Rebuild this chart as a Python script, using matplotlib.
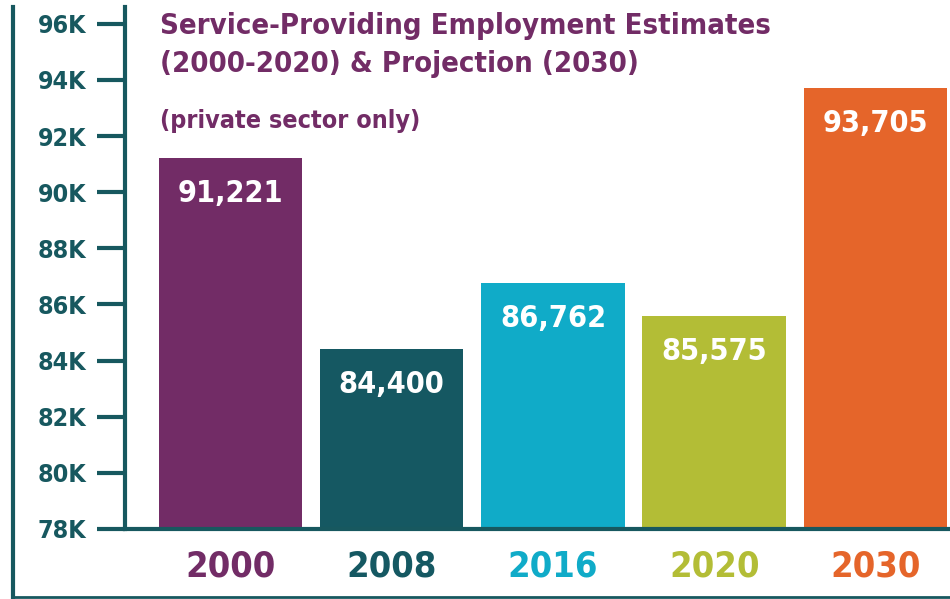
import matplotlib.pyplot as plt
from matplotlib.lines import Line2D

# Data
years = ["2000", "2008", "2016", "2020", "2030"]
employment = [91221, 84400, 86762, 85575, 93705]
colors = ["#722c66", "#155862", "#10abc8", "#b3bd36", "#e5652a"]
y_ticks = [78000, 80000, 82000, 84000, 86000, 88000, 90000, 92000, 94000, 96000]
y_tick_labels = ["78K", "80K", "82K", "84K", "86K", "88K", "90K", "92K", "94K", "96K"]

teal = "#17585f"
font = "DejaVu Sans"
stretch = "condensed"

fig = plt.figure(figsize=(9.5, 5.99), dpi=100)
ax = fig.add_axes([125 / 950, 70 / 599, 825 / 950, 522 / 599])

x = list(range(len(years)))
ax.bar(x, employment, width=0.89, color=colors, bottom=0)

# value labels inside the bars
for xi, v in zip(x, employment):
    ax.text(xi, v - 1250, f"{v:,}", ha="center", va="center", color="white",
            fontsize=22, family=font, stretch=stretch, weight="bold")

ax.set_ylim(78000, 96600)
ax.set_xlim(-0.654, 4.462)

ax.set_yticks(y_ticks)
ax.set_yticklabels(y_tick_labels, family=font, stretch=stretch, weight="bold",
                   fontsize=18, color=teal)
ax.tick_params(axis="y", length=20, width=3, color=teal, pad=8)

ax.set_xticks(x)
ax.set_xticklabels(years, family=font, stretch=stretch, weight="bold", fontsize=26)
for lbl, c in zip(ax.get_xticklabels(), colors):
    lbl.set_color(c)
ax.tick_params(axis="x", length=0, pad=15)

for side in ["top", "right"]:
    ax.spines[side].set_visible(False)
ax.spines["left"].set_color(teal)
ax.spines["left"].set_linewidth(3)
ax.spines["bottom"].set_color(teal)
ax.spines["bottom"].set_linewidth(3)

# title block
fig.text(160 / 950, 1 - 12 / 599, "Service-Providing Employment Estimates\n(2000-2020) & Projection (2030)",
         ha="left", va="top", color="#722c66", fontsize=21, family=font, stretch=stretch,
         weight="bold", linespacing=1.45)
fig.text(160 / 950, 1 - 121 / 599, "(private sector only)", ha="left", va="center",
         color="#722c66", fontsize=18, family=font, stretch=stretch, weight="bold")

# outer frame lines
fig.add_artist(Line2D([13 / 950, 13 / 950], [2 / 599, 1 - 7 / 599], color=teal, lw=3))
fig.add_artist(Line2D([13 / 950, 1.0], [2 / 599, 2 / 599], color=teal, lw=2))

plt.savefig("out.png", dpi=100)
plt.close()
